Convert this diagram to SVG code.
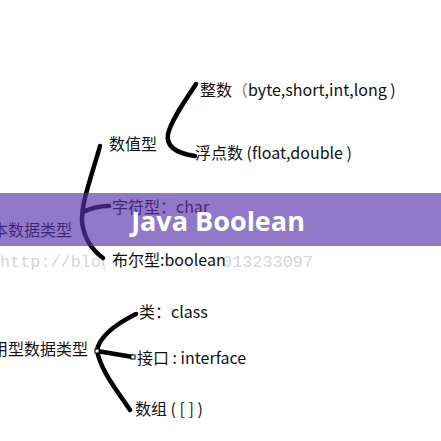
<svg xmlns="http://www.w3.org/2000/svg" width="441" height="441" viewBox="0 0 441 441">
<style>
.t{font-family:"Noto Sans CJK SC","Microsoft YaHei",sans-serif;font-size:16px;fill:#111}
.c{fill:none;stroke:#000;stroke-width:4.5;stroke-linecap:round;stroke-linejoin:round}
.wm{font-family:"Liberation Mono",monospace;font-size:17px;fill:#d6d6d6}
.sq{fill:#fff;stroke:#000;stroke-width:1}
</style>
<rect width="441" height="441" fill="#fff"/>
<text class="wm" x="0" y="267" textLength="313" lengthAdjust="spacingAndGlyphs">http://blog.csdn.net/u013233097</text>
<rect x="105" y="249" width="119" height="22" fill="#fff"/>
<g id="connectors">
<path class="c" d="M196,84 C186,100 172,118 168,134 C166,146 175,153 195,156"/>
<path class="c" d="M100,146 C92,175 81,203 82,222 C84,238 92,250 103,258"/>
<path class="c" d="M83,212 Q95,206 109,206"/>
<path class="c" d="M136,314 C120,322 100,335 97,350 C100,370 118,392 130,410"/>
<path class="c" d="M97,351 L133,357"/>
<rect class="sq" x="95" y="349" width="4" height="4"/>
<rect class="sq" x="131" y="355" width="4" height="4"/>
</g>
<g id="n-int"><text class="t" x="200" y="96">整数<tspan fill="#b5651d">（</tspan>byte,short,int,long )</text></g>
<g id="n-float"><text class="t" x="195" y="159">浮点数 (float,double )</text></g>
<g id="n-num"><text class="t" x="109" y="150">数值型</text></g>
<g id="n-char"><text class="t" x="112" y="213">字符型：char</text></g>
<g id="n-basic"><text class="t" x="72" y="236" text-anchor="end">本数据类型</text></g>
<g id="n-bool"><text class="t" x="112" y="266">布尔型:boolean</text></g>
<g id="n-ref"><text class="t" x="88" y="355" text-anchor="end">用型数据类型</text></g>
<g id="n-class"><text class="t" x="139" y="318">类：class</text></g>
<g id="n-iface"><text class="t" x="137" y="364">接口 : interface</text></g>
<g id="n-arr"><text class="t" x="135" y="415">数组 ( [ ] )</text></g>
<g id="banner">
<rect x="0" y="193" width="441" height="53" fill="rgb(90,50,172)" fill-opacity="0.66"/>
<text x="218" y="231" text-anchor="middle" font-family="'Open Sans',sans-serif" font-weight="bold" font-size="27" fill="#fff">Java Boolean</text>
</g>
</svg>
